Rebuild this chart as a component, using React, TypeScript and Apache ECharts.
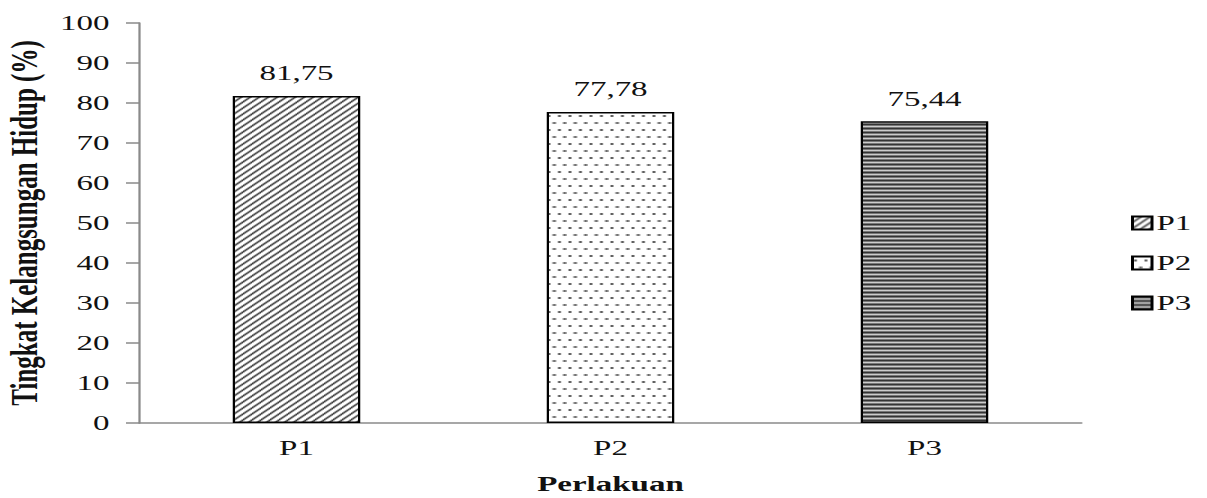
import React, { useEffect, useRef } from "react";
import * as echarts from "echarts";

const categories = ["P1", "P2", "P3"];
const seriesNames = ["P1", "P2", "P3"];
const values = [81.75, 77.78, 75.44];
const yMin = 0;
const yMax = 100;
const yInterval = 10;
const xAxisTitle = "Perlakuan";
const yAxisTitle = "Tingkat Kelangsungan Hidup (%)";

const STRETCH = 1.5;
const FONT = "'Liberation Serif', 'Times New Roman', serif";

function makeTile(w: number, h: number, draw: (ctx: CanvasRenderingContext2D) => void) {
  const c = document.createElement("canvas");
  c.width = w;
  c.height = h;
  const ctx = c.getContext("2d")!;
  ctx.fillStyle = "#ffffff";
  ctx.fillRect(0, 0, w, h);
  draw(ctx);
  return c;
}

function hatchPattern() {
  return makeTile(6, 6, (ctx) => {
    ctx.strokeStyle = "#3a3a3a";
    ctx.lineWidth = 1.4;
    ctx.beginPath();
    ctx.moveTo(-1, 7);
    ctx.lineTo(7, -1);
    ctx.moveTo(-2, 2);
    ctx.lineTo(2, -2);
    ctx.moveTo(4, 8);
    ctx.lineTo(8, 4);
    ctx.stroke();
  });
}

function dotPattern() {
  return makeTile(7, 14, (ctx) => {
    ctx.fillStyle = "#5e5e5e";
    ctx.fillRect(1, 3, 2, 2);
    ctx.fillRect(4.5, 10, 2, 2);
  });
}

function stripePattern() {
  return makeTile(4, 4, (ctx) => {
    const rows = ["#333333", "#777777", "#cccccc", "#777777"];
    rows.forEach((c, i) => {
      ctx.fillStyle = c;
      ctx.fillRect(0, i, 4, 1);
    });
  });
}

export default function App() {
  const ref = useRef<HTMLDivElement>(null);

  useEffect(() => {
    if (!ref.current) return;
    const chart = echarts.init(ref.current, undefined, { renderer: "svg" });
    const patterns = [hatchPattern(), dotPattern(), stripePattern()];

    const series = seriesNames.map((name, i) => ({
      name,
      type: "bar" as const,
      stack: "all",
      barWidth: 85,
      data: categories.map((_, j) => (j === i ? values[i] : "-")),
      itemStyle: {
        color: { image: patterns[i], repeat: "repeat" },
        borderColor: "#000000",
        borderWidth: 1.5,
      },
      label: {
        show: true,
        position: "top" as const,
        distance: 12,
        fontFamily: FONT,
        fontSize: 22,
        color: "#111111",
        formatter: (p: any) => Number(p.value).toFixed(2).replace(".", ","),
      },
    }));

    chart.setOption({
      animation: false,
      backgroundColor: "#ffffff",
      grid: { left: 93, right: 84, top: 23, bottom: 75, outerBoundsMode: "none", containLabel: false },
      legend: {
        orient: "vertical",
        left: 749,
        top: 207,
        itemWidth: 13,
        itemHeight: 13,
        itemGap: 18,
        icon: "rect",
        data: seriesNames,
        textStyle: { fontFamily: FONT, fontSize: 22, color: "#111111", padding: [0, 0, 0, -2] },
      },
      xAxis: {
        type: "category",
        data: categories,
        name: xAxisTitle,
        nameLocation: "middle",
        nameGap: 50,
        nameTextStyle: { fontFamily: FONT, fontSize: 22, fontWeight: "bold", color: "#111111" },
        axisLine: { lineStyle: { color: "#8a8a8a", width: 1.5 } },
        axisTick: { show: false },
        axisLabel: { fontFamily: FONT, fontSize: 22, color: "#111111", margin: 14 },
      },
      yAxis: {
        type: "value",
        min: yMin,
        max: yMax,
        interval: yInterval,
        name: yAxisTitle,
        nameLocation: "middle",
        nameRotate: 90,
        nameGap: 64,
        nameTextStyle: { fontFamily: FONT, fontSize: 25, fontWeight: "bold", color: "#111111" },
        axisLine: { show: true, lineStyle: { color: "#8a8a8a", width: 1.5 } },
        axisTick: { show: true, inside: false, length: 9, lineStyle: { color: "#8a8a8a", width: 1.5 } },
        axisLabel: { fontFamily: FONT, fontSize: 22, color: "#111111", margin: 20 },
        splitLine: { show: false },
      },
      series,
    });

    return () => chart.dispose();
  }, []);

  return (
    <div
      style={{
        position: "absolute",
        left: 0,
        top: 0,
        width: 1207,
        height: 498,
        overflow: "hidden",
        background: "#ffffff",
      }}
    >
      <div
        ref={ref}
        style={{
          width: Math.round(1207 / STRETCH),
          height: 498,
          transform: `scaleX(${STRETCH})`,
          transformOrigin: "0 0",
        }}
      />
    </div>
  );
}
